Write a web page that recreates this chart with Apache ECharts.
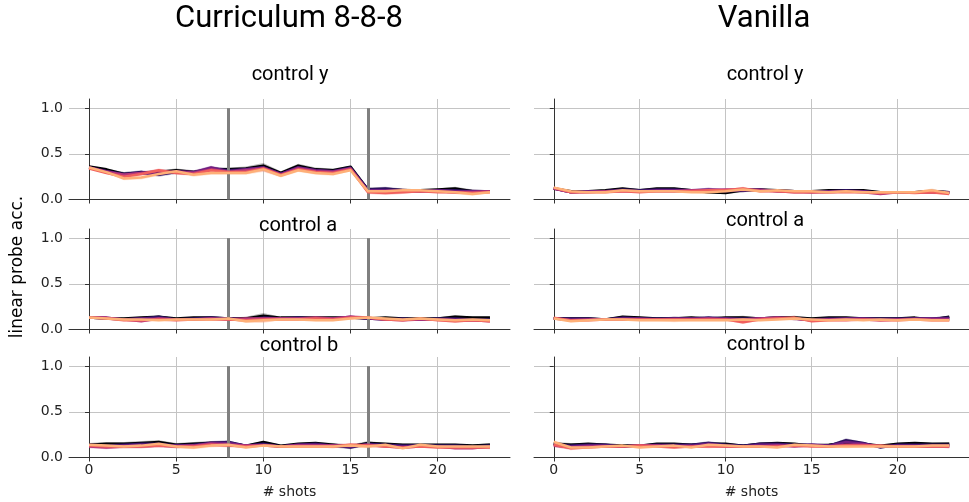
<!DOCTYPE html>
<html>
<head>
<meta charset="utf-8">
<script src="https://cdn.jsdelivr.net/npm/echarts@6/dist/echarts.min.js"></script>
<style>
  html, body { margin: 0; padding: 0; background: #fff; }
  #chart { width: 969px; height: 502px; }
</style>
</head>
<body>
<div id="chart"></div>
<script>
// x values (# shots) and tick positions
const shots = [0,1,2,3,4,5,6,7,8,9,10,11,12,13,14,15,16,17,18,19,20,21,22,23]
const xTicks = [0, 5, 10, 15, 20]
const yTicks = [0, 0.5, 1.0]
const switchPoints = [8, 16]
const colors = ['#000004', '#2c115f', '#721f81', '#b73779', '#f1605d', '#feb078']

const columnTitles = ['Curriculum 8-8-8', 'Vanilla']
const rowTitles = ['control y', 'control a', 'control b']

// Curriculum 8-8-8, control y
const curY = [
  [.36,.33,.28,.29,.30,.32,.30,.33,.33,.34,.37,.29,.37,.33,.32,.36,.11,.11,.10,.10,.11,.12,.09,.09],
  [.35,.31,.28,.30,.27,.30,.29,.34,.32,.33,.35,.28,.35,.32,.31,.35,.11,.12,.10,.09,.10,.10,.09,.09],
  [.35,.31,.27,.29,.28,.31,.30,.35,.31,.33,.35,.28,.35,.32,.31,.34,.10,.10,.10,.09,.10,.09,.09,.09],
  [.35,.30,.27,.29,.31,.30,.29,.33,.30,.32,.34,.27,.34,.31,.30,.34,.09,.08,.09,.09,.09,.08,.08,.09],
  [.34,.29,.25,.28,.32,.29,.28,.32,.30,.30,.34,.27,.33,.30,.29,.33,.08,.07,.08,.09,.08,.08,.07,.08],
  [.35,.30,.23,.24,.28,.31,.27,.29,.29,.29,.33,.26,.32,.29,.28,.32,.09,.09,.10,.10,.09,.08,.06,.08]
]
const curYErr = [.01,.01,.02,.02,.02,.02,.02,.02,.02,.02,.03,.02,.02,.02,.02,.01,.02,.02,.02,.01,.01,.02,.02,.01]

// Vanilla, control y
const vanY = [
  [.12,.09,.09,.10,.12,.10,.12,.12,.10,.08,.07,.10,.11,.10,.09,.09,.10,.10,.10,.08,.08,.08,.09,.08],
  [.12,.08,.09,.09,.11,.10,.11,.11,.10,.10,.09,.10,.10,.10,.09,.09,.09,.10,.09,.07,.08,.08,.09,.08],
  [.12,.08,.09,.09,.10,.09,.10,.10,.10,.11,.10,.10,.11,.09,.09,.08,.09,.09,.09,.07,.08,.08,.08,.08],
  [.12,.08,.08,.09,.09,.09,.09,.09,.10,.10,.11,.11,.10,.09,.08,.08,.08,.09,.08,.06,.08,.08,.08,.07],
  [.13,.08,.08,.08,.09,.08,.09,.09,.09,.10,.10,.12,.09,.09,.08,.08,.08,.08,.08,.07,.08,.07,.08,.06],
  [.13,.09,.08,.08,.10,.09,.09,.09,.08,.08,.09,.11,.09,.10,.09,.09,.08,.09,.08,.08,.08,.08,.10,.07]
]
const vanYErr = [.01,.01,.01,.01,.01,.01,.01,.01,.01,.02,.01,.02,.01,.01,.01,.01,.01,.01,.01,.01,.01,.01,.02,.01]

// Curriculum 8-8-8, control a
const curA = [
  [.13,.12,.12,.13,.14,.12,.13,.13,.12,.12,.15,.13,.13,.13,.13,.13,.12,.13,.12,.12,.12,.14,.13,.13],
  [.13,.12,.11,.12,.14,.11,.12,.13,.12,.11,.13,.12,.13,.12,.12,.13,.12,.11,.12,.11,.12,.12,.11,.11],
  [.13,.13,.11,.12,.12,.11,.11,.12,.12,.11,.12,.12,.12,.12,.12,.14,.12,.11,.11,.11,.11,.11,.10,.10],
  [.13,.13,.11,.09,.12,.11,.11,.12,.11,.12,.12,.12,.12,.13,.12,.14,.13,.11,.10,.11,.11,.10,.10,.09],
  [.13,.12,.10,.10,.11,.10,.11,.11,.11,.10,.11,.11,.11,.12,.11,.13,.13,.11,.10,.12,.10,.09,.10,.09],
  [.13,.12,.11,.11,.10,.11,.11,.11,.12,.09,.10,.11,.11,.10,.10,.12,.13,.12,.11,.12,.11,.10,.11,.10]
]
const curAErr = [.01,.01,.01,.01,.01,.01,.01,.01,.01,.02,.03,.01,.01,.01,.01,.01,.01,.01,.01,.01,.01,.02,.01,.01]

// Vanilla, control a
const vanA = [
  [.12,.12,.12,.11,.14,.13,.12,.12,.13,.12,.13,.13,.12,.13,.13,.12,.13,.13,.12,.12,.12,.13,.11,.14],
  [.12,.12,.12,.11,.13,.12,.12,.12,.12,.13,.12,.12,.12,.13,.12,.11,.12,.12,.12,.12,.12,.12,.12,.13],
  [.12,.11,.11,.11,.12,.12,.11,.12,.12,.12,.12,.11,.12,.12,.12,.10,.11,.12,.12,.11,.11,.12,.12,.12],
  [.12,.10,.11,.11,.11,.11,.11,.11,.11,.12,.11,.11,.12,.13,.12,.10,.11,.11,.11,.10,.11,.11,.11,.11],
  [.13,.10,.10,.11,.11,.11,.11,.11,.11,.11,.11,.08,.11,.12,.13,.09,.10,.10,.11,.10,.10,.11,.10,.10],
  [.12,.09,.10,.11,.11,.10,.10,.10,.10,.10,.10,.11,.10,.11,.12,.11,.10,.11,.10,.11,.10,.11,.10,.10]
]
const vanAErr = [.01,.01,.01,.01,.01,.01,.01,.02,.01,.01,.01,.02,.01,.01,.02,.01,.01,.01,.01,.01,.01,.01,.01,.01]

// Curriculum 8-8-8, control b
const curB = [
  [.14,.15,.15,.16,.17,.14,.15,.16,.16,.13,.17,.13,.15,.16,.14,.12,.16,.15,.14,.14,.14,.14,.13,.14],
  [.14,.13,.14,.15,.15,.13,.14,.16,.17,.13,.15,.12,.14,.15,.13,.11,.15,.14,.13,.13,.13,.13,.12,.13],
  [.13,.12,.13,.14,.14,.13,.13,.16,.16,.13,.14,.12,.14,.14,.13,.12,.14,.13,.12,.13,.12,.12,.11,.12],
  [.12,.11,.12,.12,.13,.12,.13,.15,.14,.13,.13,.12,.13,.13,.13,.13,.14,.12,.11,.12,.12,.10,.10,.12],
  [.13,.12,.12,.12,.13,.12,.12,.14,.13,.12,.13,.12,.12,.12,.12,.14,.13,.12,.11,.12,.11,.11,.11,.11],
  [.14,.13,.12,.13,.15,.12,.11,.13,.14,.11,.13,.12,.12,.12,.12,.13,.12,.14,.10,.14,.12,.12,.12,.12]
]
const curBErr = [.02,.02,.02,.02,.02,.02,.02,.02,.02,.01,.01,.01,.01,.01,.02,.02,.02,.01,.01,.01,.01,.01,.01,.02]

// Vanilla, control b
const vanB = [
  [.15,.14,.15,.14,.13,.13,.15,.15,.14,.15,.15,.13,.15,.16,.15,.13,.14,.16,.15,.13,.15,.16,.15,.15],
  [.15,.13,.14,.14,.12,.13,.14,.14,.14,.16,.14,.13,.15,.15,.14,.14,.13,.19,.16,.11,.14,.14,.14,.14],
  [.14,.12,.13,.13,.12,.13,.13,.13,.13,.15,.13,.12,.14,.14,.13,.14,.13,.17,.15,.12,.13,.13,.13,.13],
  [.13,.11,.12,.12,.12,.13,.13,.12,.12,.13,.12,.12,.12,.13,.12,.13,.12,.14,.14,.12,.12,.12,.12,.12],
  [.14,.10,.11,.12,.12,.13,.12,.11,.12,.12,.12,.12,.12,.12,.13,.12,.12,.13,.13,.13,.12,.12,.12,.12],
  [.17,.11,.11,.12,.13,.11,.12,.13,.11,.14,.13,.12,.12,.11,.14,.13,.12,.12,.12,.12,.12,.12,.13,.13]
]
const vanBErr = [.02,.02,.01,.01,.01,.01,.01,.01,.01,.02,.01,.01,.01,.01,.01,.01,.01,.02,.01,.01,.01,.01,.01,.02]

const panels = [
  { row: 0, col: 0, lines: curY, err: curYErr },
  { row: 0, col: 1, lines: vanY, err: vanYErr },
  { row: 1, col: 0, lines: curA, err: curAErr },
  { row: 1, col: 1, lines: vanA, err: vanAErr },
  { row: 2, col: 0, lines: curB, err: curBErr },
  { row: 2, col: 1, lines: vanB, err: vanBErr }
]

const gridLeft = [69, 534]
const gridTop = [99, 229, 357]
const gridW = 441
const gridH = 100.5

const tickFont = 'DejaVu Sans'
const titleFont = 'Roboto'

const chart = echarts.init(document.getElementById('chart'))

const grids = [], xAxes = [], yAxes = [], series = []

// shaded band (mean +- err) drawn as one polygon through the axes' own coord()
function bandSeries (i, vals, err, color) {
  return {
    type: 'custom', xAxisIndex: i, yAxisIndex: i, data: [[0, 0]], silent: true, z: 1,
    renderItem: (params, api) => {
      const upper = shots.map((x, j) => api.coord([x, vals[j] + err[j]]))
      const lower = shots.map((x, j) => api.coord([x, vals[j] - err[j]])).reverse()
      return {
        type: 'polygon',
        shape: { points: upper.concat(lower) },
        style: { fill: color, opacity: 0.28 }
      }
    }
  }
}

panels.forEach((p, i) => {
  grids.push({ left: gridLeft[p.col], top: gridTop[p.row], width: gridW, height: gridH })
  const bottom = p.row === 2
  xAxes.push({
    type: 'value', gridIndex: i, min: -1.15, max: 24.15,
    name: bottom ? '# shots' : '', nameLocation: 'middle', nameGap: 28,
    nameTextStyle: { fontFamily: tickFont, fontSize: 14, color: '#222' },
    axisLine: { show: true, onZero: false, lineStyle: { color: '#333', width: 1 } },
    axisTick: { show: true, customValues: xTicks, length: 4, lineStyle: { color: '#333' } },
    axisLabel: { show: bottom, customValues: xTicks, fontFamily: tickFont, fontSize: 14, color: '#222', margin: 6 },
    splitLine: { show: true, lineStyle: { color: '#c4c4c4', width: 1 } }
  })
  yAxes.push({
    type: 'value', gridIndex: i, min: 0, max: 1.1,
    axisLine: { show: true, lineStyle: { color: '#333', width: 1 } },
    axisTick: { show: true, customValues: yTicks, length: 4, lineStyle: { color: '#333' } },
    axisLabel: {
      show: p.col === 0, customValues: yTicks, fontFamily: tickFont, fontSize: 14, color: '#222', margin: 6,
      formatter: v => v.toFixed(1)
    },
    splitLine: { show: true, lineStyle: { color: '#c4c4c4', width: 1 } }
  })

  p.lines.forEach((vals, k) => {
    series.push(bandSeries(i, vals, p.err, colors[k]))
  })
  p.lines.forEach((vals, k) => {
    series.push({
      type: 'line', xAxisIndex: i, yAxisIndex: i,
      data: shots.map((x, j) => [x, vals[j]]),
      symbol: 'none', lineStyle: { color: colors[k], width: 2.5 }, silent: true, z: 2 + k
    })
  })
  if (p.col === 0) {
    series.push({
      type: 'line', xAxisIndex: i, yAxisIndex: i, data: [], z: 20, silent: true,
      markLine: {
        silent: true, symbol: 'none', label: { show: false },
        lineStyle: { color: '#808080', width: 3, type: 'solid' },
        data: switchPoints.map(x => [{ coord: [x, 0] }, { coord: [x, 1] }])
      }
    })
  }
})

const texts = [
  { x: 289, y: 19, t: columnTitles[0], size: 31 },
  { x: 764, y: 19, t: columnTitles[1], size: 31 },
  { x: 290, y: 75, t: rowTitles[0], size: 20 },
  { x: 765, y: 75, t: rowTitles[0], size: 20 },
  { x: 298, y: 226, t: rowTitles[1], size: 20 },
  { x: 765, y: 221, t: rowTitles[1], size: 20 },
  { x: 299, y: 346, t: rowTitles[2], size: 20 },
  { x: 766, y: 345, t: rowTitles[2], size: 20 }
]

const graphic = texts.map(d => ({
  type: 'text', x: d.x, y: d.y, z: 50,
  style: { text: d.t, font: d.size + 'px ' + titleFont, fill: '#000', textAlign: 'center', textVerticalAlign: 'middle' }
}))
graphic.push({
  type: 'text', x: 18, y: 267, rotation: Math.PI / 2, z: 50,
  style: { text: 'linear probe acc.', font: '17px ' + tickFont, fill: '#000', textAlign: 'center', textVerticalAlign: 'middle' }
})

chart.setOption({
  animation: false,
  backgroundColor: '#fff',
  grid: grids,
  xAxis: xAxes,
  yAxis: yAxes,
  series: series,
  graphic: graphic
})
</script>
</body>
</html>
